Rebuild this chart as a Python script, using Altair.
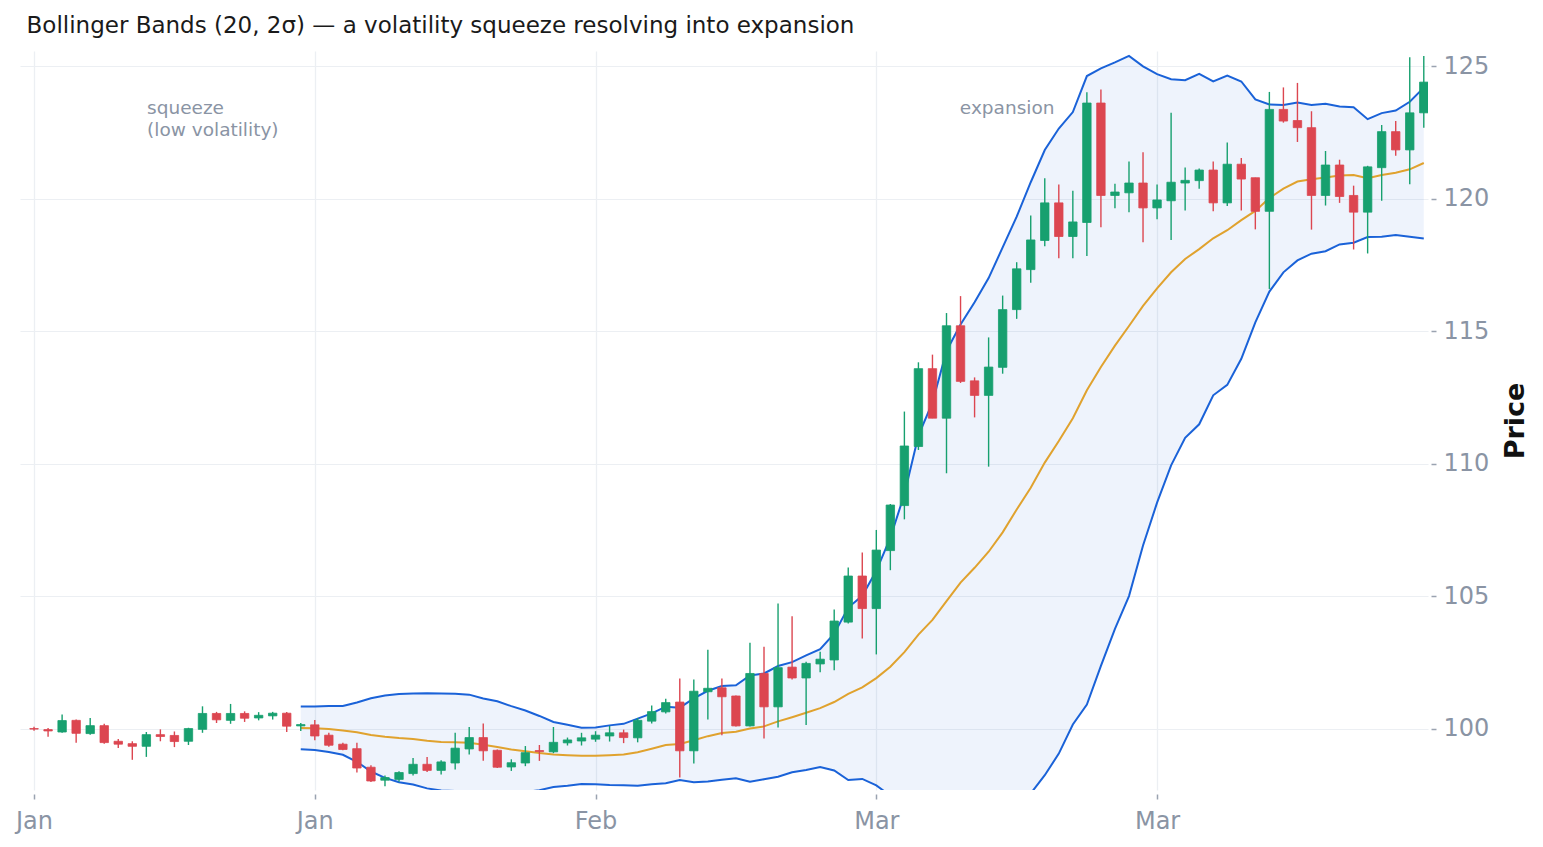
import altair as alt
import pandas as pd

# ---- data (one candle per session) ----
opens = [100.00, 99.96, 99.87, 100.31, 99.81, 100.11, 99.52, 99.43, 99.33, 99.77,
         99.74, 99.52, 99.97, 100.57, 100.31, 100.57, 100.40, 100.48, 100.58, 100.10,
         100.14, 99.75, 99.41, 99.24, 98.54, 98.05, 98.08, 98.30, 98.65, 98.42,
         98.70, 99.23, 99.66, 99.18, 98.55, 98.70, 99.17, 99.12, 99.46, 99.53,
         99.60, 99.72, 99.84, 99.65, 100.28, 100.63, 101.00, 99.16, 101.39, 101.54,
         101.23, 100.10, 102.08, 100.82, 102.32, 101.91, 102.44, 102.59, 104.02, 105.76,
         104.53, 106.72, 108.42, 110.65, 113.59, 111.72, 115.21, 113.13, 112.58, 113.64,
         115.82, 117.33, 118.43, 119.85, 118.58, 119.11, 123.62, 120.13, 120.23, 120.60,
         119.66, 119.93, 120.60, 120.69, 121.09, 119.85, 121.31, 120.80, 119.53, 123.38,
         122.96, 122.69, 120.13, 121.28, 120.13, 119.50, 121.18, 122.54, 121.85, 123.25]
highs = [100.07, 100.02, 100.53, 100.34, 100.40, 100.18, 99.61, 99.52, 99.87, 99.97,
         99.89, 100.03, 100.84, 100.63, 100.93, 100.65, 100.62, 100.63, 100.63, 100.21,
         100.32, 99.84, 99.46, 99.46, 98.61, 98.23, 98.39, 98.89, 98.93, 98.80,
         99.84, 100.06, 100.19, 99.21, 98.84, 99.34, 99.38, 100.06, 99.66, 99.84,
         99.90, 100.10, 99.96, 100.40, 100.87, 101.13, 101.89, 101.85, 102.98, 101.89,
         101.25, 103.24, 103.09, 104.72, 104.24, 102.52, 102.90, 104.50, 106.08, 106.65,
         107.50, 108.48, 111.97, 113.83, 114.12, 115.69, 116.33, 113.26, 114.77, 116.35,
         117.61, 119.37, 120.78, 120.54, 120.31, 124.03, 124.13, 120.57, 121.41, 121.76,
         120.54, 123.25, 121.19, 121.15, 121.41, 122.13, 121.54, 120.80, 124.04, 124.21,
         124.38, 123.31, 121.81, 121.48, 120.50, 121.25, 122.79, 122.94, 125.35, 125.40]
lows = [99.92, 99.69, 99.84, 99.46, 99.77, 99.43, 99.27, 98.82, 98.93, 99.52,
        99.30, 99.38, 99.84, 100.21, 100.18, 100.25, 100.31, 100.34, 99.87, 99.91,
        99.56, 99.31, 99.18, 98.34, 97.98, 97.82, 97.99, 98.23, 98.36, 98.27,
        98.45, 99.02, 98.78, 98.51, 98.40, 98.58, 98.78, 99.07, 99.36, 99.36,
        99.50, 99.51, 99.45, 99.48, 100.19, 100.57, 98.15, 98.68, 100.34, 99.75,
        100.08, 100.08, 99.62, 100.04, 101.85, 100.13, 102.13, 102.20, 103.97, 103.40,
        102.80, 105.98, 107.90, 110.52, 111.72, 109.64, 113.05, 111.75, 109.89, 113.40,
        115.47, 116.83, 118.21, 117.76, 117.76, 117.84, 118.93, 119.65, 119.50, 118.36,
        119.23, 118.45, 119.56, 120.38, 119.53, 119.73, 119.56, 118.85, 116.60, 122.88,
        122.15, 118.84, 119.75, 119.85, 118.09, 117.94, 119.93, 121.63, 120.55, 122.69]
closes = [99.98, 99.91, 100.30, 99.82, 100.11, 99.47, 99.41, 99.33, 99.77, 99.70,
          99.51, 100.00, 100.57, 100.33, 100.57, 100.39, 100.50, 100.58, 100.09, 100.15,
          99.72, 99.37, 99.21, 98.51, 98.02, 98.15, 98.34, 98.65, 98.42, 98.74,
          99.26, 99.66, 99.16, 98.54, 98.71, 99.09, 99.13, 99.48, 99.57, 99.65,
          99.75, 99.84, 99.66, 100.31, 100.64, 100.98, 99.16, 101.41, 101.52, 101.20,
          100.10, 102.08, 100.82, 102.30, 101.91, 102.46, 102.62, 104.06, 105.76, 104.53,
          106.74, 108.44, 110.67, 113.59, 111.72, 115.21, 113.11, 112.58, 113.65, 115.82,
          117.36, 118.45, 119.85, 118.58, 119.13, 123.62, 120.13, 120.26, 120.60, 119.66,
          119.96, 120.63, 120.70, 121.09, 119.85, 121.31, 120.75, 119.53, 123.38, 122.94,
          122.69, 120.13, 121.28, 120.09, 119.50, 121.21, 122.54, 121.85, 123.25, 124.41]

tick_positions = [0, 20, 40, 60, 80]
tick_labels = ["Jan", "Jan", "Feb", "Mar", "Mar"]
price_ticks = [100, 105, 110, 115, 120, 125]

note_text = [["squeeze", "(low volatility)"], ["expansion"]]
note_x = [8.05, 65.95]
note_y = [123.43, 123.43]

n = len(closes)
df = pd.DataFrame({
    "i": list(range(n)),
    "open": opens, "high": highs, "low": lows, "close": closes,
})
df["dir"] = ["up" if c >= o else "down" for o, c in zip(opens, closes)]

notes = pd.DataFrame({"x": note_x, "y": note_y, "label": note_text})

GREEN_LINE = "#17a06f"
GREEN_BODY = "#20a077"
RED_LINE = "#dc4650"
RED_BODY = "#c9505b"
BAND = "#1a62d8"
MID = "#e0a22e"
LABEL_GREY = "#8a94a4"

label_expr = "{" + ",".join(f"'{p}':'{l}'" for p, l in zip(tick_positions, tick_labels)) + "}[datum.value]"

x_scale = alt.Scale(domain=[-1.0, 99.3], nice=False, zero=False)
y_scale = alt.Scale(domain=[97.68, 125.585], nice=False, zero=False)

x_axis = alt.Axis(values=tick_positions, labelExpr=label_expr, title=None,
                  grid=True, gridColor="#eceff3", gridWidth=1.3,
                  domain=False, ticks=True, tickSize=5, tickColor="#9aa3b0", tickWidth=1.5,
                  offset=4, labelPadding=10, labelFontSize=24, labelColor=LABEL_GREY,
                  labelFont="DejaVu Sans")
y_axis = alt.Axis(orient="right", values=price_ticks, title="Price",
                  grid=True, gridColor="#eceff3", gridWidth=1.2,
                  domain=False, ticks=True, tickSize=5, tickColor="#9aa3b0", tickWidth=1.5,
                  offset=3, labelPadding=7, labelFontSize=24, labelColor=LABEL_GREY,
                  labelFont="DejaVu Sans",
                  titleAngle=270, titleBaseline="top", titleFontSize=27, titleFontWeight="bold",
                  titleColor="#111111", titleFont="DejaVu Sans", titlePadding=14)

base = alt.Chart(df)

bands = base.transform_window(
    sma="mean(close)", sd="stdev(close)", frame=[-19, 0], sort=[alt.SortField("i")]
).transform_calculate(
    upper="datum.sma + 2*datum.sd", lower="datum.sma - 2*datum.sd"
).transform_filter("datum.i >= 19")

band_area = bands.mark_area(color=BAND, opacity=0.075, clip=True).encode(
    x=alt.X("i:Q", scale=x_scale, axis=x_axis),
    y=alt.Y("upper:Q", scale=y_scale, axis=y_axis),
    y2="lower:Q",
)
upper_line = bands.mark_line(color=BAND, strokeWidth=2, clip=True).encode(
    x=alt.X("i:Q", scale=x_scale), y=alt.Y("upper:Q", scale=y_scale))
lower_line = bands.mark_line(color=BAND, strokeWidth=2, clip=True).encode(
    x=alt.X("i:Q", scale=x_scale), y=alt.Y("lower:Q", scale=y_scale))
mid_line = bands.mark_line(color=MID, strokeWidth=2, clip=True).encode(
    x=alt.X("i:Q", scale=x_scale), y=alt.Y("sma:Q", scale=y_scale))

color_line = alt.Color("dir:N", scale=alt.Scale(domain=["up", "down"], range=[GREEN_LINE, RED_LINE]), legend=None)
color_body = alt.Color("dir:N", scale=alt.Scale(domain=["up", "down"], range=[GREEN_BODY, RED_BODY]), legend=None)

wicks = base.mark_rule(strokeWidth=1.4, clip=True).encode(
    x=alt.X("i:Q", scale=x_scale),
    y=alt.Y("low:Q", scale=y_scale),
    y2="high:Q",
    color=color_line,
)
bodies = base.transform_calculate(
    xl="datum.i - 0.3", xr="datum.i + 0.3"
).mark_rect(clip=True, strokeWidth=0.8).encode(
    x=alt.X("xl:Q", scale=x_scale),
    x2="xr:Q",
    y=alt.Y("open:Q", scale=y_scale),
    y2="close:Q",
    color=color_body,
    stroke=color_line,
)

note_marks = alt.Chart(notes).mark_text(
    align="left", baseline="middle", fontSize=18.5, font="DejaVu Sans",
    color=LABEL_GREY, lineHeight=22
).encode(
    x=alt.X("x:Q", scale=x_scale),
    y=alt.Y("y:Q", scale=y_scale),
    text="label",
)

chart = alt.layer(band_area, upper_line, lower_line, mid_line, wicks, bodies, note_marks).properties(
    width=1408, height=739,
    background="white",
    title=alt.TitleParams(
        "Bollinger Bands (20, 2σ) — a volatility squeeze resolving into expansion",
        anchor="start", fontSize=23, font="DejaVu Sans", fontWeight="normal",
        color="#1a1a1a", dx=11, offset=13,
    ),
    padding={"left": 20, "top": 51, "right": 115, "bottom": 57},
    autosize=alt.AutoSizeParams(type="none"),
).configure_view(stroke="transparent", strokeWidth=0)

chart.save("out.html", embed_options={"renderer": "svg", "actions": False})
